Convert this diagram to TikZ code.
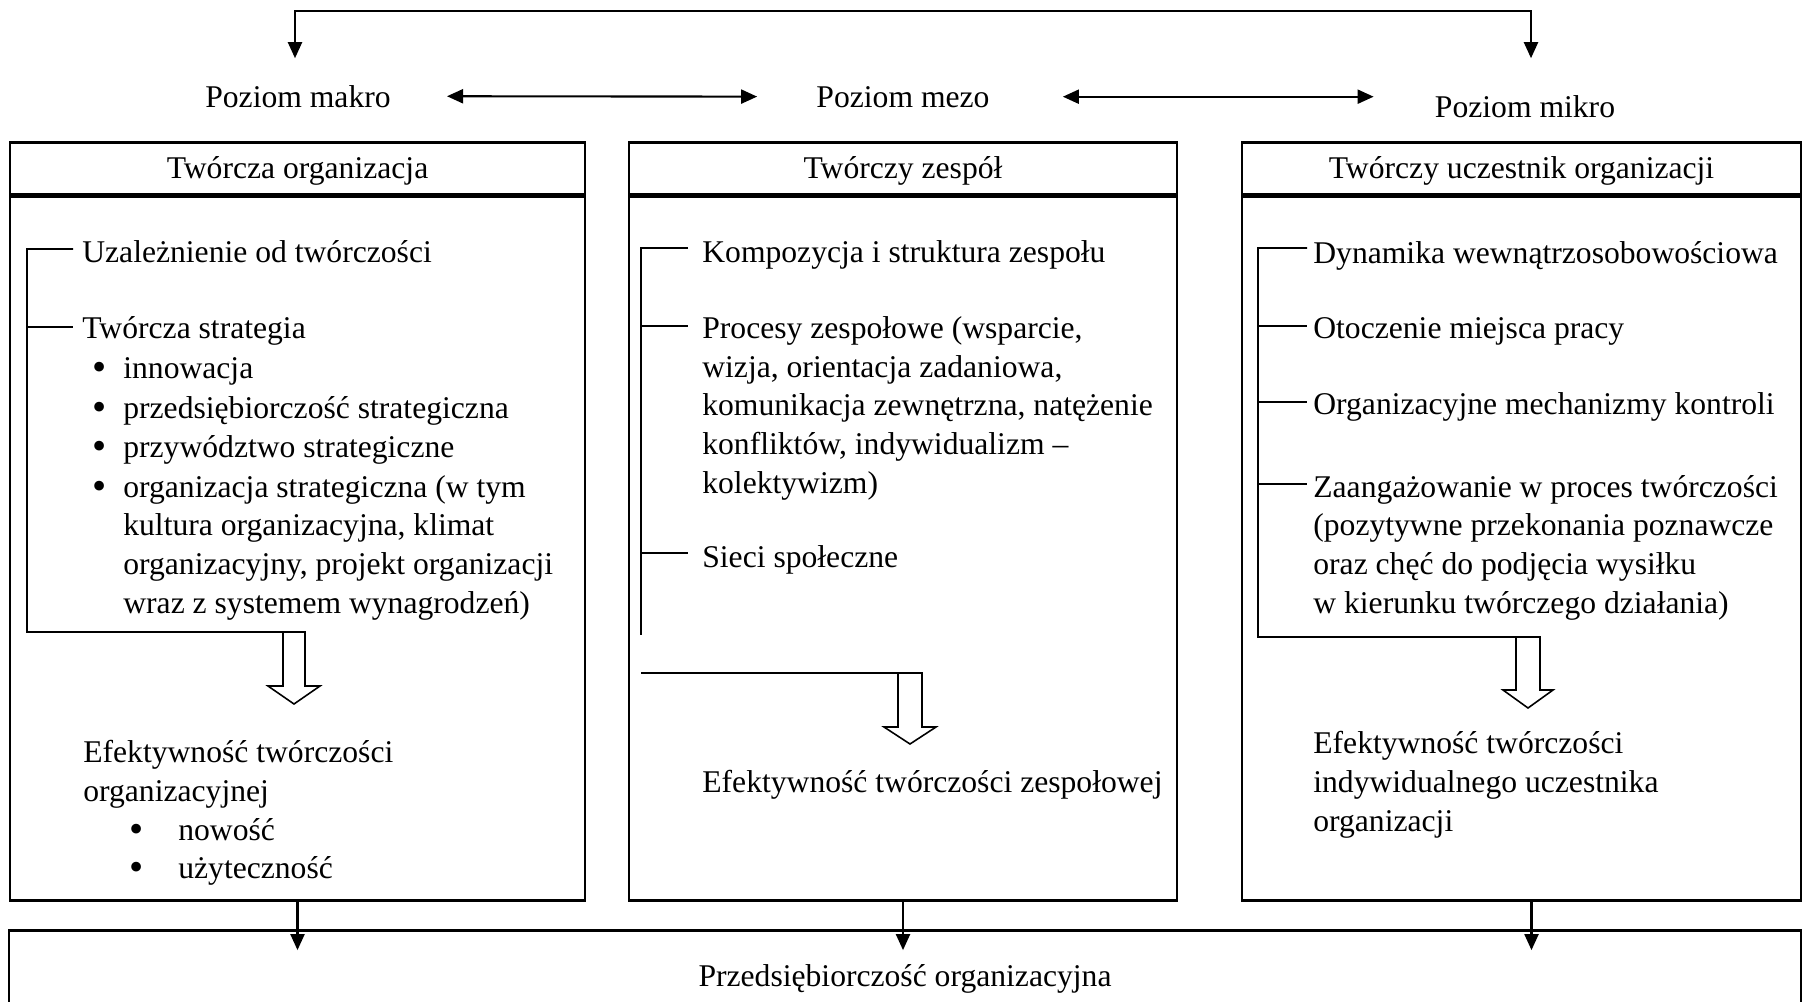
\documentclass[tikz,border=0pt]{standalone}
\usepackage{fontspec}
\setmainfont{Liberation Serif}
\usetikzlibrary{arrows.meta,positioning}

\begin{document}
\begin{tikzpicture}[
  x=0.02cm, y=-0.02cm,
  >={Triangle[length=0.32cm,width=0.28cm]},
  every node/.style={font=\fontsize{18}{22}\selectfont, inner sep=0pt},
  level/.style={anchor=base},
  head/.style={
    draw, line width=1.5pt, anchor=north,
    minimum height=1.04cm, text height=0.5cm, text depth=0.1cm
  },
  panel/.style={draw, line width=1.5pt, anchor=north},
  item/.style={anchor=base west, align=left},
  dot/.style={anchor=base, font=\fontsize{23}{23}\selectfont, yshift=-0.05cm},
  link/.style={line width=1.2pt},
  bracket/.style={line width=0.9pt, line join=miter}
]
\useasboundingbox (0,0) rectangle (1809,1001);

% -- Poziomy --
\node[level] (makro) at ( 298, 107) {Poziom makro};
\node[level] (mezo)  at ( 903, 107) {Poziom mezo};
\node[level] (mikro) at (1525, 117) {Poziom mikro};

\draw[link,<->,shorten <=1.12cm,shorten >=1.18cm] (makro.east) -- (mezo.west);
\draw[link,<->,shorten <=1.46cm,shorten >=1.22cm] (mezo.east) -- (mezo.east -| mikro.west);
\draw[link,<->] ([xshift=-0.06cm,yshift=0.53cm]makro.north) -- ++(0,-47)
  -| ([xshift=0.12cm,yshift=0.73cm]mikro.north);

% -- Ramki --
\node[head, minimum width=11.5cm]   (orghead)   at ( 297.5, 141) {Twórcza organizacja};
\node[panel, minimum width=11.5cm, minimum height=14.08cm] (org) at (orghead.south) {};
\node[head, minimum width=10.96cm]  (teamhead)  at ( 903,   141) {Twórczy zespół};
\node[panel, minimum width=10.96cm, minimum height=14.08cm] (team) at (teamhead.south) {};
\node[head, minimum width=11.18cm]  (indivhead) at (1521.5, 141) {Twórczy uczestnik organizacji};
\node[panel, minimum width=11.18cm, minimum height=14.08cm] (indiv) at (indivhead.south) {};

\node[head, minimum width=35.84cm, minimum height=1.84cm] (ent) at (905, 929) {Przedsiębiorczość organizacyjna};

\draw[link,->] (org.south) -- ++(0,48);
\draw[link,->] (team.south) -- ++(0,48);
\draw[link,->] ([xshift=0.2cm]indiv.south) -- ++(0,48);

% -- Poziom makro: treść (wielowierszowe: pozycja ostatniego wiersza) --
\node[item] (uzal)  at (82, 262) {Uzależnienie od twórczości};
\node[item] (strat) at (82, 338) {Twórcza strategia};
\node[dot]  (d1) at (100, 378) {•};
\node[item] (s1) at (123, 378) {innowacja};
\node[dot]  (d2) at (100, 418) {•};
\node[item] (s2) at (123, 418) {przedsiębiorczość strategiczna};
\node[dot]  (d3) at (100, 457) {•};
\node[item] (s3) at (123, 457) {przywództwo strategiczne};
\node[dot]  (d4) at (100, 497) {•};
\node[item] (s4) at (123, 613) {organizacja strategiczna (w tym\\kultura organizacyjna, klimat\\organizacyjny, projekt organizacji\\wraz z systemem wynagrodzeń)};

\draw[bracket] (73,249) -| (27,632) -- (305,632) -- (305,686) -- (320,686)
  -- (294,704) -- (268,686) -- (283,686) -- (283,632);
\draw[bracket] (27,327) -- (73,327);

\node[item] (efo) at (83, 801) {Efektywność twórczości\\organizacyjnej};
\node[dot]  (d5) at (137, 840) {•};
\node[item] (nowosc) at (178, 840) {nowość};
\node[dot]  (d6) at (137, 878) {•};
\node[item] (uzyt) at (178, 878) {użyteczność};

% -- Poziom mezo: treść --
\node[item] (komp)  at (702, 262) {Kompozycja i struktura zespołu};
\node[item] (proc)  at (702, 493) {Procesy zespołowe (wsparcie,\\wizja, orientacja zadaniowa,\\komunikacja zewnętrzna, natężenie\\konfliktów, indywidualizm –\\kolektywizm)};
\node[item] (sieci) at (702, 567) {Sieci społeczne};

\draw[bracket] (688,248) -| (641,635);
\draw[bracket] (641,326) -- (688,326);
\draw[bracket] (641,553) -- (688,553);
\draw[bracket] (641,673) -- (922,673) -- (922,727) -- (936,727)
  -- (910,744) -- (884,727) -- (898,727) -- (898,673);

\node[item] (efz) at (702, 792) {Efektywność twórczości zespołowej};

% -- Poziom mikro: treść --
\node[item] (dyn)   at (1313, 263) {Dynamika wewnątrzosobowościowa};
\node[item] (otocz) at (1313, 338) {Otoczenie miejsca pracy};
\node[item] (mech)  at (1313, 414) {Organizacyjne mechanizmy kontroli};
\node[item] (zaang) at (1313, 613) {Zaangażowanie w proces twórczości\\(pozytywne przekonania poznawcze\\oraz chęć do podjęcia wysiłku\\w kierunku twórczego działania)};

\draw[bracket] (1307,248) -| (1258,637) -- (1540,637) -- (1540,690) -- (1553,690)
  -- (1528,708) -- (1503,690) -- (1516,690) -- (1516,637);
\draw[bracket] (1258,326) -- (1307,326);
\draw[bracket] (1258,402) -- (1307,402);
\draw[bracket] (1258,484) -- (1307,484);

\node[item] (efi) at (1313, 831) {Efektywność twórczości\\indywidualnego uczestnika\\organizacji};

\end{tikzpicture}
\end{document}
